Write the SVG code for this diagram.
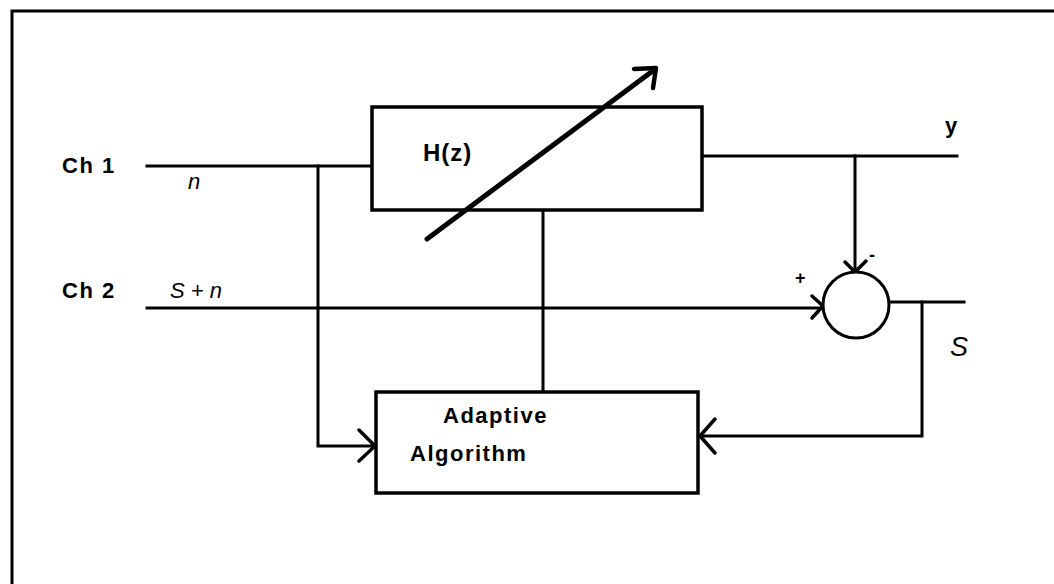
<svg xmlns="http://www.w3.org/2000/svg" width="1054" height="584" viewBox="0 0 1054 584">
<style>
.ln{fill:none;stroke:#000;stroke-width:3;stroke-linecap:square}
.box{fill:#fff;stroke:#000;stroke-width:3.5}
.lbl{font-family:"Liberation Sans",Arial,sans-serif;font-weight:bold;font-size:22px;letter-spacing:1.5px;fill:#000}
.it{font-family:"Liberation Sans",Arial,sans-serif;font-style:italic;font-size:22px;fill:#000}
.chev{fill:none;stroke:#000;stroke-width:3.5;stroke-linecap:round;stroke-linejoin:round}
</style>
<rect width="1054" height="584" fill="#fff"/>
<path d="M12,584 V11 H1054" fill="none" stroke="#000" stroke-width="3"/>
<g id="connectors">
<path class="ln" d="M147,166 H372"/>
<path class="ln" d="M318,166 V446 H374"/>
<path class="chev" d="M359,430 L375,446 L359,461"/>
<path class="ln" d="M147,308 H823"/>
<path class="chev" d="M812,296 L823,306 L812,318"/>
<path class="ln" d="M702,156 H957"/>
<path class="ln" d="M855,156 V270"/>
<path class="chev" d="M845,262 L855,272 L866,261"/>
<path class="ln" d="M889,302 H964"/>
<path class="ln" d="M922,302 V436 H700"/>
<path class="chev" d="M715,419 L700,436 L715,453"/>
<path class="ln" d="M543,210 V392"/>
</g>
<g id="hz">
<rect class="box" x="372" y="107" width="330" height="103"/>
<text class="lbl" x="423" y="161" style="font-size:24px;letter-spacing:1px">H(z)</text>
<path d="M427,239 L654,70" fill="none" stroke="#000" stroke-width="5" stroke-linecap="round"/>
<path d="M634,69 L656,68 L653,88" fill="none" stroke="#000" stroke-width="4.5" stroke-linecap="round" stroke-linejoin="round"/>
</g>
<g id="sum">
<circle cx="856" cy="305" r="33" fill="#fff" stroke="#000" stroke-width="3"/>
<text class="lbl" x="795" y="284" style="font-size:18px">+</text>
<text class="lbl" x="869" y="261" style="font-size:18px">-</text>
</g>
<g id="adaptive">
<rect class="box" x="376" y="392" width="322" height="101"/>
<text class="lbl" x="443" y="423">Adaptive</text>
<text class="lbl" x="410" y="461">Algorithm</text>
</g>
<g id="labels">
<text class="lbl" x="62" y="173">Ch  1</text>
<text class="it" x="188" y="189">n</text>
<text class="lbl" x="62" y="298">Ch 2</text>
<text class="it" x="170" y="298">S + n</text>
<text class="lbl" x="945" y="133">y</text>
<text class="it" x="950" y="356" style="font-size:27px">S</text>
</g>
</svg>
